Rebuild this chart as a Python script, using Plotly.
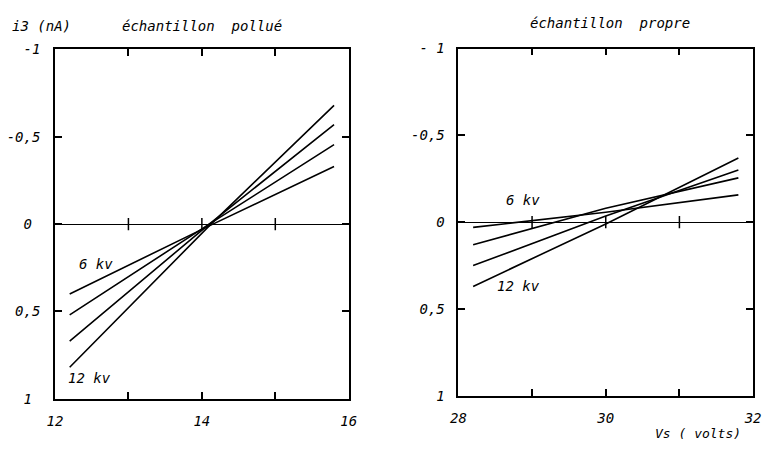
import plotly.graph_objects as go

# ---- data ----
kv_labels = ["6 kV", "8 kV", "10 kV", "12 kV"]

# left panel: échantillon pollué
x_pollue = [12.2, 14.1, 15.8]
i3_pollue = {
    "6 kV":  [0.40, 0.01, -0.33],
    "8 kV":  [0.52, 0.00, -0.455],
    "10 kV": [0.67, 0.00, -0.57],
    "12 kV": [0.82, 0.01, -0.68],
}

# right panel: échantillon propre
x_propre = [28.2, 30.0, 31.8]
i3_propre = {
    "6 kV":  [0.03, -0.057, -0.157],
    "8 kV":  [0.13, -0.08, -0.255],
    "10 kV": [0.25, -0.035, -0.30],
    "12 kV": [0.37, 0.01, -0.37],
}

NB = "\u00a0"
y_tickvals = [-1, -0.5, 0, 0.5, 1]
y_ticktext_left = ["-1", "-0,5", "0" + NB, "0,5", "1" + NB]
y_ticktext_right = ["-" + NB + "1", "-0,5", "0", "0,5", "1"]
x_tickvals_left = [12, 13, 14, 15, 16]
x_ticktext_left = ["12", "", "14", "", "16"]
x_tickvals_right = [28, 29, 30, 31, 32]
x_ticktext_right = ["28", "", "30", "", "32"]

W, H = 766, 454
FONT = dict(family="DejaVu Sans Mono", size=14, color="black", style="italic")
FONT_S = dict(FONT, size=13)

fig = go.Figure()
for k in kv_labels:
    fig.add_trace(go.Scatter(x=x_pollue, y=i3_pollue[k], mode="lines",
                             line=dict(color="black", width=1.6),
                             xaxis="x", yaxis="y", showlegend=False))
for k in kv_labels:
    fig.add_trace(go.Scatter(x=x_propre, y=i3_propre[k], mode="lines",
                             line=dict(color="black", width=1.6),
                             xaxis="x2", yaxis="y2", showlegend=False))

def xax(domain, tv, tt, anchor):
    return dict(domain=domain, range=[tv[0], tv[-1]], tickvals=tv, ticktext=tt,
                ticks="inside", ticklen=7, tickwidth=1.5, tickcolor="black",
                showline=True, linecolor="black", linewidth=1.6, mirror="ticks",
                showgrid=False, zeroline=False, anchor=anchor,
                tickfont=FONT, ticklabelstandoff=9)

def yax(domain, tt, anchor, standoff):
    return dict(domain=domain, range=[1, -1], tickvals=y_tickvals, ticktext=tt,
                ticks="inside", ticklen=7, tickwidth=1.5, tickcolor="black",
                showline=True, linecolor="black", linewidth=1.6, mirror="ticks",
                showgrid=False, zeroline=True, zerolinecolor="black", zerolinewidth=1.3,
                anchor=anchor, tickfont=FONT, ticklabelstandoff=standoff)

fig.update_layout(
    width=W, height=H, margin=dict(l=0, r=0, t=0, b=0),
    paper_bgcolor="white", plot_bgcolor="white",
    xaxis=xax([48 / W, 348 / W], x_tickvals_left, x_ticktext_left, "y"),
    yaxis=yax([1 - 405 / H, 1 - 43 / H], y_ticktext_left, "x", 10),
    xaxis2=xax([460 / W, 761 / W], x_tickvals_right, x_ticktext_right, "y2"),
    yaxis2=yax([1 - 402 / H, 1 - 42 / H], y_ticktext_right, "x2", 9),
)

# tick marks crossing the zero line
for xv in x_tickvals_left[1:-1]:
    fig.add_shape(type="line", xref="x", yref="y", x0=xv, x1=xv, y0=-0.035, y1=0.035,
                  line=dict(color="black", width=1.5))
for xv in x_tickvals_right[1:-1]:
    fig.add_shape(type="line", xref="x2", yref="y2", x0=xv, x1=xv, y0=-0.035, y1=0.035,
                  line=dict(color="black", width=1.5))

ann = [
    dict(text="i3 (nA)", x=34 / W, y=1 - 19 / H, xref="paper", yref="paper", font=FONT),
    dict(text="échantillon" + NB + NB + "pollué", x=198 / W, y=1 - 19 / H, xref="paper", yref="paper", font=FONT),
    dict(text="échantillon" + NB + NB + "propre", x=615 / W, y=1 - 16 / H, xref="paper", yref="paper", font=FONT),
    dict(text="Vs ( volts)", x=705 / W, y=1 - 441 / H, xref="paper", yref="paper", font=FONT_S),
    dict(text="6 kv", x=12.56, y=0.23, xref="x", yref="y", font=FONT),
    dict(text="12 kv", x=12.47, y=0.88, xref="x", yref="y", font=FONT),
    dict(text="6 kv", x=28.88, y=-0.13, xref="x2", yref="y2", font=FONT),
    dict(text="12 kv", x=28.82, y=0.37, xref="x2", yref="y2", font=FONT),
]
for a in ann:
    fig.add_annotation(showarrow=False, xanchor="center", yanchor="middle", **a)

fig.write_html("out.html")
